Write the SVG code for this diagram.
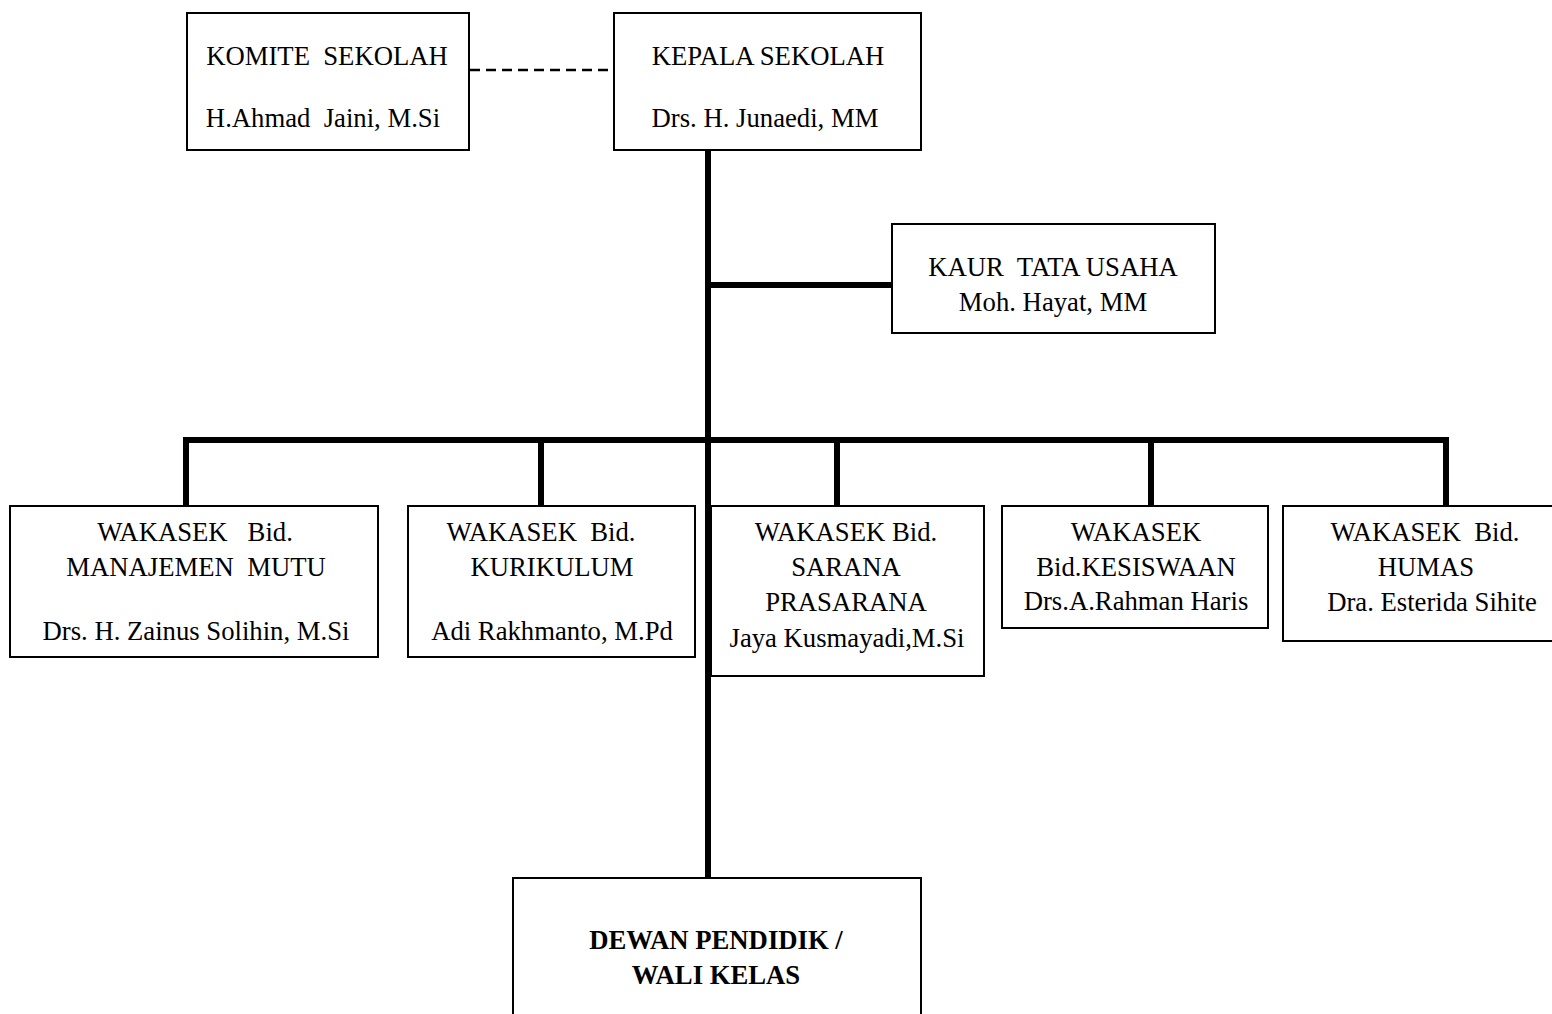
<svg xmlns="http://www.w3.org/2000/svg" width="1552" height="1014" viewBox="0 0 1552 1014">
<style>
.box{fill:#fff;stroke:#000;stroke-width:2}
text{font-family:"Liberation Serif","Times New Roman",serif;font-size:26.7px;fill:#000;text-anchor:middle;white-space:pre}
.b{font-weight:bold}
.conn{stroke:#000;stroke-width:6;fill:none}
.dash{stroke:#000;stroke-width:2.5;stroke-dasharray:10 6;fill:none}
</style>
<rect width="1552" height="1014" fill="#fff"/>
<g id="connectors">
<line class="dash" x1="470" y1="70" x2="614" y2="70"/>
<line class="conn" x1="708" y1="150" x2="708" y2="878"/>
<line class="conn" x1="708" y1="285" x2="892" y2="285"/>
<line class="conn" x1="183" y1="440" x2="1449" y2="440"/>
<line class="conn" x1="186" y1="440" x2="186" y2="506"/>
<line class="conn" x1="541" y1="440" x2="541" y2="506"/>
<line class="conn" x1="837" y1="440" x2="837" y2="506"/>
<line class="conn" x1="1151" y1="440" x2="1151" y2="506"/>
<line class="conn" x1="1446" y1="440" x2="1446" y2="506"/>
</g>
<g id="komite">
<rect class="box" x="187" y="13" width="282" height="137"/>
<text x="327" y="65">KOMITE  SEKOLAH</text>
<text x="323" y="127">H.Ahmad  Jaini, M.Si</text>
</g>
<g id="kepala">
<rect class="box" x="614" y="13" width="307" height="137"/>
<text x="768" y="65">KEPALA SEKOLAH</text>
<text x="765" y="127">Drs. H. Junaedi, MM</text>
</g>
<g id="kaur">
<rect class="box" x="892" y="224" width="323" height="109"/>
<text x="1053" y="276">KAUR  TATA USAHA</text>
<text x="1053" y="311">Moh. Hayat, MM</text>
</g>
<g id="wakasek-mutu">
<rect class="box" x="10" y="506" width="368" height="151"/>
<text x="195" y="541">WAKASEK   Bid.</text>
<text x="196" y="576">MANAJEMEN  MUTU</text>
<text x="196" y="640">Drs. H. Zainus Solihin, M.Si</text>
</g>
<g id="wakasek-kurikulum">
<rect class="box" x="408" y="506" width="287" height="151"/>
<text x="541" y="541">WAKASEK  Bid.</text>
<text x="552" y="576">KURIKULUM</text>
<text x="552" y="640">Adi Rakhmanto, M.Pd</text>
</g>
<g id="wakasek-sarana">
<rect class="box" x="711" y="506" width="273" height="170"/>
<text x="846" y="541">WAKASEK Bid.</text>
<text x="846" y="576">SARANA</text>
<text x="846" y="611">PRASARANA</text>
<text x="847" y="647">Jaya Kusmayadi,M.Si</text>
</g>
<g id="wakasek-kesiswaan">
<rect class="box" x="1002" y="506" width="266" height="122"/>
<text x="1136" y="541">WAKASEK</text>
<text x="1136" y="576">Bid.KESISWAAN</text>
<text x="1136" y="610">Drs.A.Rahman Haris</text>
</g>
<g id="wakasek-humas">
<rect class="box" x="1283" y="506" width="275" height="135"/>
<text x="1425" y="541">WAKASEK  Bid.</text>
<text x="1426" y="576">HUMAS</text>
<text x="1432" y="611">Dra. Esterida Sihite</text>
</g>
<g id="dewan">
<rect class="box" x="513" y="878" width="408" height="150"/>
<text class="b" x="716" y="949">DEWAN PENDIDIK /</text>
<text class="b" x="716" y="984">WALI KELAS</text>
</g>
</svg>
